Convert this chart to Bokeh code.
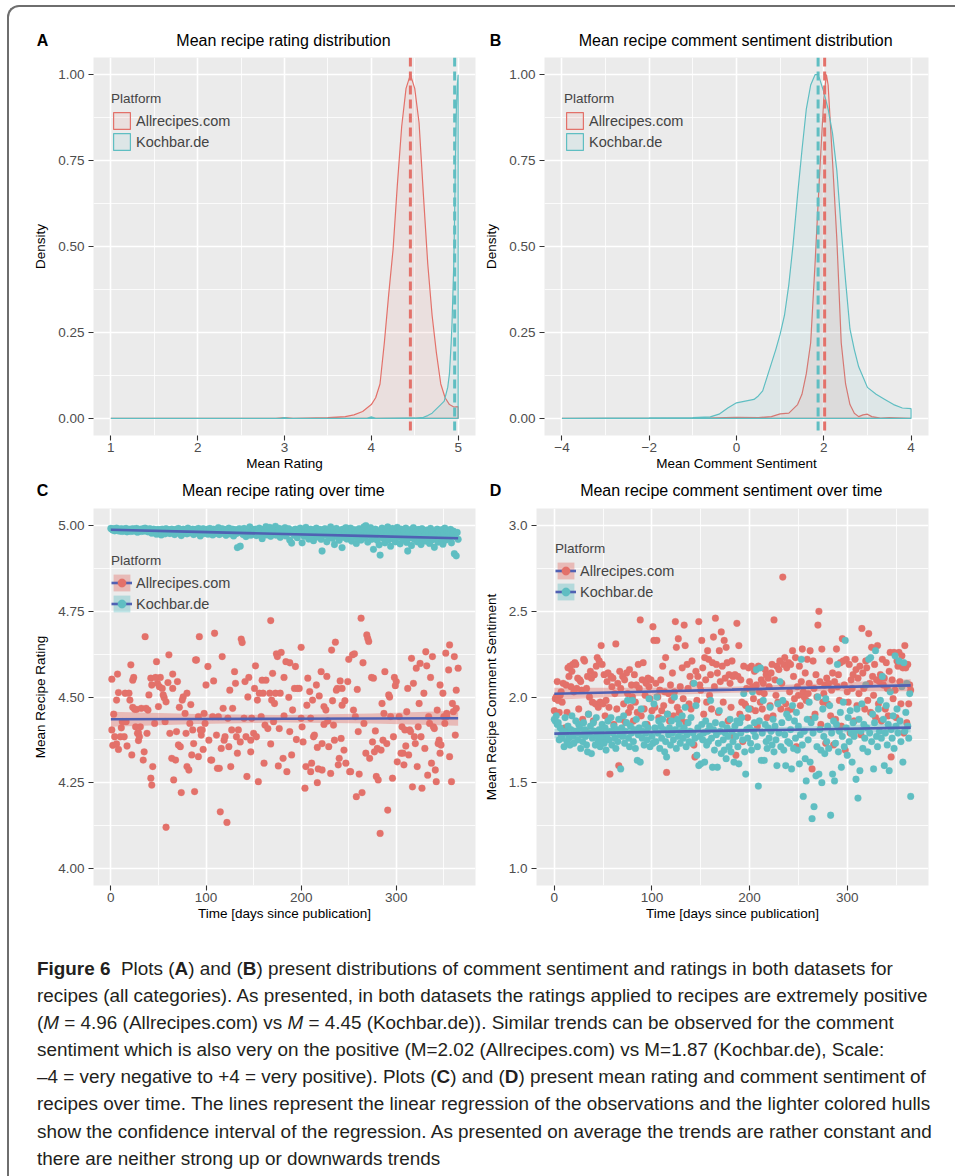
from bokeh.plotting import figure
from bokeh.models import (Range1d, FixedTicker, Span, Legend, LegendItem,
                          Div, PrintfTickFormatter)
from bokeh.layouts import row, column
from bokeh.embed import file_html
from bokeh.resources import INLINE

# ---------------- data ----------------
platforms = ["Allrecipes.com", "Kochbar.de"]
panel_letters = ["A", "B", "C", "D"]
panel_titles = ["Mean recipe rating distribution",
                "Mean recipe comment sentiment distribution",
                "Mean recipe rating over time",
                "Mean recipe comment sentiment over time"]

# Panel A: density of mean rating
a_red_x = [1.0, 2.9, 3.0, 3.1, 3.5, 3.7, 3.8, 3.9, 4.0, 4.05, 4.1, 4.15, 4.2, 4.25, 4.3,
           4.35, 4.4, 4.45, 4.5, 4.55, 4.6, 4.65, 4.7, 4.75, 4.8, 4.85, 4.9, 4.95, 5.0]
a_red_y = [0.0, 0.0, 0.002, 0.0, 0.002, 0.005, 0.01, 0.02, 0.04, 0.06, 0.1, 0.22, 0.36, 0.49, 0.68,
           0.85, 0.96, 1.0, 0.96, 0.86, 0.65, 0.45, 0.3, 0.19, 0.1, 0.06, 0.04, 0.033, 0.034]
a_teal_x = [1.0, 2.95, 3.0, 3.05, 3.95, 4.0, 4.05, 4.5, 4.6, 4.65, 4.7, 4.72, 4.8, 4.84, 4.88,
            4.9, 4.92, 4.93, 4.95, 4.96, 4.97, 4.98, 4.99, 5.0]
a_teal_y = [0.0, 0.0, 0.002, 0.0, 0.0, 0.004, 0.0, 0.001, 0.003, 0.008, 0.015, 0.02, 0.04, 0.05, 0.09,
            0.13, 0.22, 0.28, 0.45, 0.6, 0.78, 0.9, 0.97, 1.0]
a_means = [4.45, 4.96]

# Panel B: density of mean comment sentiment
b_red_x = [-4.0, -1.0, 0.0, 0.5, 0.8, 1.0, 1.2, 1.4, 1.5, 1.6, 1.7, 1.8, 1.9, 2.0, 2.06, 2.1,
           2.2, 2.3, 2.4, 2.5, 2.6, 2.7, 2.8, 2.9, 3.0, 3.1, 3.3, 3.5, 4.0]
b_red_y = [0.0, 0.0, 0.003, 0.002, 0.005, 0.013, 0.015, 0.04, 0.07, 0.13, 0.22, 0.45, 0.7, 0.93, 1.0, 0.97,
           0.75, 0.52, 0.22, 0.1, 0.04, 0.015, 0.005, 0.01, 0.012, 0.005, 0.001, 0.002, 0.0]
b_teal_x = [-4.0, -2.0, -1.0, -0.6, -0.4, -0.2, 0.0, 0.2, 0.4, 0.5, 0.6, 0.7, 0.8, 0.9, 1.0, 1.1,
            1.2, 1.3, 1.4, 1.5, 1.6, 1.7, 1.8, 1.85, 1.9, 2.0, 2.1, 2.2, 2.3, 2.4, 2.5, 2.6,
            2.7, 2.8, 2.9, 3.0, 3.2, 3.4, 3.6, 3.8, 4.0]
b_teal_y = [0.0, 0.001, 0.002, 0.004, 0.012, 0.03, 0.045, 0.05, 0.055, 0.065, 0.08, 0.12, 0.16, 0.2, 0.245, 0.3,
            0.39, 0.51, 0.65, 0.78, 0.9, 0.97, 1.0, 1.0, 0.99, 0.95, 0.9, 0.83, 0.72, 0.55, 0.4, 0.26,
            0.2, 0.15, 0.12, 0.09, 0.07, 0.055, 0.04, 0.03, 0.028]
b_means = [2.02, 1.87]

# Panel C: mean recipe rating over time (day, rating)
c_red_points = [
    (1,4.404),(1,4.552),(3,4.45),(2,4.359),(4,4.384),(6,4.491),(7,4.567),(6,4.363),(8,4.513),(8,4.347),
    (10,4.384),(11,4.41),(12,4.428),(14,4.384),(15,4.511),(16,4.428),(17,4.357),(19,4.511),(20,4.491),(21,4.594),
    (22,4.331),(23,4.47),(23,4.549),(24,4.557),(25,4.464),(26,4.413),(27,4.464),(28,4.394),(29,4.373),(29,4.396),
    (30,4.384),(31,4.413),(32,4.467),(34,4.316),(35,4.34),(36,4.676),(37,4.467),(38,4.394),(39,4.462),(40,4.506),
    (42,4.555),(42,4.263),(43,4.243),(43,4.535),(44,4.297),(46,4.423),(47,4.557),(48,4.603),(49,4.54),(50,4.472),
    (51,4.53),(52,4.557),(54,4.525),(55,4.506),(56,4.498),(57,4.428),(58,4.12),(58,4.486),(60,4.542),(61,4.623),
    (62,4.394),(64,4.321),(65,4.567),(65,4.525),(66,4.258),(68,4.316),(69,4.399),(70,4.545),(71,4.36),(72,4.47),
    (73,4.355),(74,4.221),(75,4.491),(76,4.5),(78,4.452),(79,4.394),(80,4.511),(80,4.297),(82,4.287),(83,4.423),
    (84,4.478),(85,4.331),(86,4.404),(87,4.364),(88,4.224),(89,4.608),(90,4.608),(92,4.443),(92,4.326),(93,4.676),
    (94,4.404),(95,4.389),(96,4.404),(97,4.347),(98,4.452),(99,4.423),(100,4.535),(102,4.589),(103,4.374),(105,4.316),
    (106,4.316),(107,4.443),(108,4.547),(109,4.686),(111,4.389),(112,4.292),(113,4.443),(114,4.292),(115,4.165),(116,4.35),
    (117,4.618),(118,4.467),(119,4.374),(120,4.384),(122,4.134),(123,4.438),(124,4.355),(125,4.52),(126,4.297),(127,4.404),
    (128,4.467),(130,4.574),(131,4.54),(132,4.384),(133,4.336),(134,4.404),(136,4.369),(137,4.669),(138,4.659),(140,4.438),
    (141,4.545),(142,4.384),(143,4.268),(144,4.5),(145,4.557),(147,4.374),(147,4.34),(148,4.438),(150,4.394),(151,4.525),
    (152,4.591),(153,4.384),(154,4.491),(155,4.253),(156,4.511),(158,4.443),(159,4.549),(160,4.511),(161,4.307),(162,4.418),
    (163,4.549),(165,4.408),(167,4.511),(168,4.363),(168,4.723),(169,4.491),(170,4.569),(171,4.428),(172,4.481),(173,4.511),
    (174,4.626),(175,4.618),(176,4.299),(177,4.408),(178,4.511),(179,4.63),(181,4.321),(182,4.557),(182,4.445),(184,4.603),
    (185,4.282),(187,4.499),(188,4.399),(188,4.6),(190,4.331),(191,4.462),(193,4.525),(194,4.589),(195,4.376),(196,4.525),
    (198,4.525),(200,4.438),(200,4.645),(201,4.413),(202,4.369),(204,4.234),(205,4.297),(206,4.476),(207,4.555),(209,4.516),
    (210,4.282),(210,4.438),(211,4.307),(212,4.491),(213,4.384),(214,4.389),(216,4.535),(217,4.353),(217,4.25),(218,4.29),
    (219,4.503),(221,4.574),(222,4.287),(222,4.364),(224,4.472),(224,4.42),(226,4.462),(227,4.56),(228,4.43),(229,4.355),
    (231,4.277),(232,4.637),(233,4.489),(234,4.418),(235,4.374),(236,4.66),(237,4.52),(238,4.525),(239,4.302),(240,4.321),
    (241,4.547),(242,4.379),(243,4.476),(243,4.525),(245,4.345),(246,4.489),(247,4.307),(249,4.545),(250,4.61),(251,4.282),
    (252,4.282),(254,4.623),(255,4.462),(256,4.626),(257,4.443),(258,4.209),(259,4.522),(260,4.399),(261,4.275),(263,4.73),
    (264,4.221),(265,4.6),(266,4.423),(268,4.336),(269,4.681),(270,4.671),(271,4.662),(272,4.321),(274,4.557),(275,4.369),
    (276,4.555),(277,4.34),(278,4.401),(279,4.268),(280,4.35),(281,4.258),(283,4.102),(284,4.345),(285,4.481),(286,4.374),
    (287,4.452),(288,4.574),(290,4.364),(291,4.17),(292,4.506),(293,4.5),(294,4.443),(296,4.263),(297,4.384),(298,4.557),
    (299,4.533),(300,4.545),(301,4.311),(303,4.443),(305,4.336),(306,4.413),(307,4.336),(308,4.302),(309,4.404),(310,4.357),
    (311,4.457),(312,4.525),(313,4.331),(314,4.404),(315,4.399),(316,4.613),(317,4.238),(318,4.54),(319,4.384),(320,4.364),
    (321,4.584),(322,4.297),(323,4.413),(324,4.481),(325,4.598),(326,4.384),(327,4.234),(329,4.511),(330,4.35),(331,4.632),
    (332,4.591),(333,4.272),(334,4.443),(335,4.423),(336,4.557),(337,4.307),(338,4.618),(339,4.413),(340,4.408),(341,4.287),
    (342,4.253),(343,4.462),(344,4.364),(345,4.374),(346,4.535),(346,4.336),(347,4.36),(349,4.511),(350,4.443),(351,4.423),
    (352,4.628),(353,4.452),(353,4.443),(355,4.579),(356,4.326),(356,4.652),(358,4.253),(359,4.481),(360,4.457),(361,4.618),
    (362,4.389),(363,4.52),(363,4.467),(365,4.584)]

# Kochbar.de daily mean rating, day 0..365
c_teal_vals = [
    4.992, 4.990, 4.987, 4.991, 4.985, 4.989, 4.993, 4.986, 4.990, 4.984,
    4.988, 4.991, 4.983, 4.987, 4.990, 4.985, 4.992, 4.982, 4.988, 4.986,
    4.990, 4.983, 4.987, 4.991, 4.984, 4.989, 4.986, 4.992, 4.981, 4.988,
    4.985, 4.990, 4.983, 4.987, 4.991, 4.984, 4.993, 4.986, 4.989, 4.982,
    4.988, 4.991, 4.985, 4.978, 4.987, 4.990, 4.983, 4.986, 4.975, 4.989,
    4.984, 4.979, 4.988, 4.973, 4.990, 4.982, 4.986, 4.976, 4.991, 4.980,
    4.985, 4.988, 4.977, 4.983, 4.990, 4.981, 4.986, 4.974, 4.989, 4.984,
    4.979, 4.992, 4.982, 4.987, 4.971, 4.985, 4.990, 4.978, 4.984, 4.988,
    4.976, 4.993, 4.983, 4.979, 4.987, 4.981, 4.990, 4.974, 4.985, 4.989,
    4.978, 4.984, 4.992, 4.980, 4.970, 4.987, 4.983, 4.991, 4.977, 4.986,
    4.981, 4.989, 4.975, 4.985, 4.992, 4.979, 4.986, 4.973, 4.990, 4.983,
    4.977, 4.988, 4.982, 4.994, 4.974, 4.986, 4.980, 4.991, 4.978, 4.984,
    4.989, 4.972, 4.985, 4.981, 4.993, 4.976, 4.987, 4.982, 4.990, 4.970,
    4.984, 4.988, 4.977, 4.936, 4.983, 4.991, 4.940, 4.979, 4.986, 4.974,
    4.992, 4.981, 4.968, 4.987, 4.978, 4.985, 4.996, 4.972, 4.983, 4.989,
    4.976, 4.984, 4.990, 4.971, 4.986, 4.980, 4.993, 4.975, 4.985, 4.962,
    4.989, 4.979, 4.984, 4.997, 4.973, 4.987, 4.981, 4.995, 4.969, 4.985,
    4.990, 4.977, 4.983, 4.998, 4.972, 4.986, 4.980, 4.992, 4.966, 4.984,
    4.989, 4.975, 4.982, 4.994, 4.970, 4.986, 4.979, 4.991, 4.958, 4.983,
    4.949, 4.978, 4.987, 4.972, 4.990, 4.981, 4.965, 4.985, 4.976, 4.993,
    4.980, 4.950, 4.987, 4.969, 4.983, 4.995, 4.974, 4.986, 4.961, 4.981,
    4.990, 4.971, 4.984, 4.956, 4.988, 4.977, 4.993, 4.967, 4.982, 4.975,
    4.989, 4.960, 4.926, 4.984, 4.972, 4.991, 4.979, 4.953, 4.986, 4.969,
    4.982, 4.996, 4.974, 4.963, 4.988, 4.945, 4.979, 4.992, 4.970, 4.984,
    4.957, 4.987, 4.975, 4.936, 4.990, 4.966, 4.981, 4.994, 4.961, 4.978,
    4.986, 4.970, 4.993, 4.955, 4.981, 4.968, 4.988, 4.975, 4.948, 4.984,
    4.962, 4.991, 4.977, 4.958, 4.986, 4.971, 4.996, 4.965, 5.000, 4.979,
    4.952, 4.987, 4.973, 4.994, 4.960, 4.982, 4.931, 4.968, 4.990, 4.975,
    4.957, 4.985, 4.944, 4.914, 4.978, 4.993, 4.964, 4.981, 4.950, 4.988,
    4.971, 4.996, 4.959, 4.983, 4.940, 4.974, 4.992, 4.962, 4.985, 4.953,
    4.979, 4.995, 4.966, 4.983, 4.947, 4.990, 4.972, 4.958, 4.986, 4.969,
    4.993, 4.951, 4.926, 4.980, 4.964, 4.988, 4.942, 4.975, 4.994, 4.960,
    4.983, 4.970, 4.953, 4.989, 4.967, 4.978, 4.945, 4.991, 4.962, 4.984,
    4.971, 4.955, 4.987, 4.966, 4.981, 4.948, 4.992, 4.974, 4.959, 4.985,
    4.937, 4.979, 4.968, 4.990, 4.952, 4.983, 4.972, 4.962, 4.988, 4.946,
    4.977, 4.993, 4.958, 4.985, 4.970, 4.981, 4.964, 4.989, 4.950, 4.976,
    4.984, 4.918, 4.968, 4.912, 4.980, 4.960]

# Panel D: daily mean comment sentiment, day 0..365
d_red_vals = [
    1.92, 1.99, 2.00, 2.09, 1.98, 1.91, 2.01, 2.03, 1.97, 2.08, 1.81, 1.82, 2.07, 1.91, 2.17, 2.12, 2.18, 2.06, 2.15, 2.19,
    2.03, 2.20, 2.19, 2.05, 2.11, 1.93, 2.10, 2.09, 2.04, 1.87, 2.22, 2.21, 1.80, 2.05, 2.12, 1.90, 2.00, 2.15, 2.11, 1.97,
    1.86, 2.13, 1.96, 2.18, 2.23, 1.94, 2.21, 1.97, 2.30, 2.19, 1.96, 2.13, 1.89, 1.98, 2.09, 2.14, 1.94, 1.55, 2.12, 2.06,
    2.11, 1.84, 2.02, 2.31, 1.93, 2.08, 1.60, 2.15, 2.05, 1.87, 2.12, 1.96, 2.10, 1.85, 2.14, 2.02, 1.91, 2.16, 1.94, 2.07,
    2.00, 1.86, 2.13, 1.97, 2.07, 1.91, 2.19, 2.05, 2.45, 1.89, 2.10, 2.20, 1.93, 2.01, 2.08, 1.84, 2.11, 2.06, 1.99, 2.10,
    1.92, 2.41, 2.33, 1.94, 2.08, 2.33, 2.00, 1.88, 2.04, 2.10, 1.92, 2.18, 1.95, 2.03, 2.23, 1.56, 1.90, 2.02, 1.86, 2.07,
    1.98, 2.14, 1.89, 2.03, 2.44, 2.29, 1.94, 2.34, 1.91, 2.06, 1.87, 2.17, 1.99, 2.42, 2.30, 1.85, 2.19, 2.05, 1.96, 2.12,
    1.93, 2.21, 2.08, 1.72, 1.65, 2.15, 1.98, 2.12, 2.44, 2.07, 2.04, 2.33, 2.17, 1.90, 2.23, 2.10, 1.97, 2.27, 2.22, 2.01,
    2.13, 1.93, 2.20, 2.35, 2.06, 2.46, 2.19, 2.14, 1.91, 2.27, 2.09, 2.38, 2.18, 1.97, 2.33, 2.11, 2.29, 2.20, 1.86, 2.13,
    2.08, 1.94, 2.21, 2.12, 1.77, 2.13, 1.66, 2.43, 2.12, 2.30, 1.90, 2.10, 1.97, 1.74, 2.18, 1.96, 1.95, 2.05, 1.88, 2.17,
    2.09, 1.93, 2.18, 2.06, 1.99, 2.15, 1.92, 2.07, 1.83, 2.18, 2.03, 1.97, 2.10, 1.93, 2.08, 2.02, 2.16, 2.13, 1.88, 2.11,
    2.06, 1.95, 2.14, 2.19, 1.89, 2.45, 2.10, 2.01, 2.18, 1.97, 2.16, 2.21, 1.93, 2.08, 2.70, 2.19, 2.23, 1.96, 2.17, 1.92,
    2.20, 2.03, 2.19, 1.93, 2.27, 2.12, 1.99, 2.23, 1.71, 2.06, 2.01, 2.18, 1.95, 2.09, 2.28, 2.03, 2.00, 2.14, 1.98, 2.22,
    2.02, 2.08, 2.27, 1.87, 1.58, 2.21, 2.05, 1.90, 2.13, 2.00, 2.42, 2.50, 2.09, 1.84, 2.28, 1.97, 2.02, 2.07, 1.73, 2.11,
    1.96, 2.08, 2.21, 1.89, 2.04, 2.14, 1.72, 2.09, 1.87, 2.28, 2.06, 2.13, 1.98, 2.20, 1.83, 2.34, 2.21, 2.07, 1.69, 2.22,
    2.03, 1.97, 2.19, 1.79, 2.10, 2.05, 2.13, 1.86, 2.22, 2.16, 1.95, 2.11, 2.02, 2.18, 1.78, 2.40, 2.14, 2.05, 1.93, 2.21,
    2.17, 1.98, 2.37, 2.08, 1.91, 2.29, 2.12, 2.01, 2.19, 1.88, 2.10, 2.30, 1.96, 2.09, 2.13, 1.86, 2.22, 2.07, 2.11, 1.93,
    2.20, 2.05, 1.89, 2.15, 2.26, 1.65, 2.10, 1.99, 2.26, 2.04, 1.88, 2.21, 2.18, 2.26, 2.09, 1.96, 2.24, 2.17, 1.79, 2.30,
    2.17, 1.85, 2.19, 1.96, 2.07, 2.04]
d_teal_vals = [
    1.87, 1.86, 1.89, 1.84, 1.85, 1.75, 1.82, 1.78, 1.76, 1.80, 1.71, 1.88, 1.79, 1.74, 1.83, 1.76, 1.72, 1.81, 1.89, 1.77,
    1.73, 1.80, 1.86, 1.79, 1.75, 1.84, 1.82, 1.70, 1.78, 1.74, 1.85, 1.81, 1.77, 1.72, 1.68, 1.90, 1.79, 1.83, 1.67, 1.76,
    1.85, 1.80, 1.72, 1.88, 1.77, 1.74, 1.81, 1.71, 1.79, 1.84, 1.76, 1.73, 1.82, 1.69, 1.78, 1.86, 1.75, 1.80, 1.88, 1.72,
    1.79, 1.83, 1.76, 1.70, 1.81, 1.74, 1.87, 1.78, 1.58, 1.82, 1.77, 1.89, 1.73, 1.80, 1.85, 1.98, 1.76, 1.71, 1.83, 1.79,
    1.98, 1.74, 1.81, 1.70, 1.87, 1.63, 1.78, 1.82, 1.62, 1.93, 1.76, 1.80, 1.72, 1.84, 1.79, 1.75, 1.82, 1.99, 1.71, 1.88,
    1.77, 1.73, 1.96, 1.82, 1.74, 2.00, 1.79, 1.86, 1.70, 1.83, 1.76, 1.87, 1.81, 1.68, 1.74, 1.65, 1.90, 1.78, 1.82, 1.72,
    1.86, 1.79, 1.75, 2.00, 1.81, 1.70, 1.87, 1.77, 1.84, 1.73, 1.80, 1.89, 1.76, 1.82, 1.94, 1.71, 1.78, 1.85, 1.74, 1.80,
    1.88, 1.73, 1.79, 2.08, 1.76, 1.95, 1.66, 1.82, 1.60, 1.77, 1.61, 1.84, 1.75, 1.79, 1.62, 1.86, 1.72, 1.80, 1.74, 1.83,
    1.98, 1.76, 1.59, 1.81, 1.69, 1.85, 1.78, 1.59, 1.73, 1.92, 1.80, 1.67, 1.84, 1.75, 1.69, 1.79, 1.64, 1.82, 1.77, 1.71,
    1.87, 1.68, 1.80, 1.74, 1.62, 1.83, 1.77, 1.86, 1.71, 1.61, 1.85, 1.79, 1.88, 1.75, 2.02, 1.68, 1.55, 1.81, 1.76, 1.93,
    1.82, 1.73, 1.69, 2.03, 1.80, 1.85, 1.77, 2.16, 1.71, 1.48, 1.86, 2.17, 1.63, 1.79, 1.98, 1.63, 1.84, 1.74, 1.70, 1.82,
    1.76, 1.94, 1.80, 1.72, 1.87, 1.68, 1.83, 1.75, 1.60, 1.96, 1.79, 2.09, 1.71, 1.85, 1.98, 1.69, 1.78, 1.60, 1.90, 1.74,
    1.88, 1.73, 1.81, 1.58, 1.95, 1.70, 1.86, 1.76, 1.91, 1.69, 1.83, 1.61, 1.78, 2.22, 1.72, 1.42, 1.80, 1.64, 1.51, 1.87,
    1.75, 1.97, 1.62, 1.85, 1.29, 1.79, 1.36, 1.88, 1.54, 1.71, 2.00, 1.55, 1.81, 1.69, 1.50, 1.93, 1.77, 1.67, 1.99, 1.74,
    1.83, 1.70, 1.95, 1.31, 1.79, 1.55, 1.86, 1.51, 1.73, 1.84, 2.19, 1.68, 1.80, 1.91, 1.59, 1.77, 1.97, 1.71, 2.33, 1.82,
    1.66, 1.88, 1.74, 1.92, 1.79, 1.62, 1.85, 1.77, 1.80, 1.52, 1.93, 1.41, 1.87, 1.57, 1.80, 1.96, 1.70, 1.84, 1.76, 2.07,
    1.82, 1.68, 2.22, 1.79, 2.23, 1.74, 1.90, 1.58, 1.85, 2.27, 1.77, 1.71, 1.93, 1.80, 1.98, 1.76, 2.12, 1.87, 1.60, 1.79,
    1.95, 1.72, 1.84, 1.57, 2.03, 1.81, 1.76, 1.89, 1.70, 2.24, 1.83, 1.93, 1.79, 2.21, 1.86, 1.74, 2.06, 1.62, 2.20, 1.80,
    1.91, 2.08, 1.83, 1.76, 2.02, 1.42]

# Linear regression fits with confidence interval
reg_days = [0, 91, 182, 274, 365]
c_red_fit = [4.435, 4.4358, 4.4365, 4.4373, 4.438]
c_red_lo = [4.413, 4.4212, 4.4255, 4.4227, 4.416]
c_red_hi = [4.457, 4.4504, 4.4475, 4.4519, 4.460]
c_teal_fit = [4.988, 4.9818, 4.9755, 4.9693, 4.963]
c_teal_lo = [4.984, 4.9792, 4.9735, 4.9667, 4.959]
c_teal_hi = [4.992, 4.9844, 4.9775, 4.9719, 4.967]
d_red_fit = [2.019, 2.031, 2.043, 2.056, 2.068]
d_red_lo = [1.984, 2.008, 2.0255, 2.033, 2.033]
d_red_hi = [2.054, 2.054, 2.0605, 2.079, 2.103]
d_teal_fit = [1.786, 1.795, 1.8035, 1.812, 1.821]
d_teal_lo = [1.758, 1.7765, 1.7895, 1.7935, 1.793]
d_teal_hi = [1.814, 1.8135, 1.8175, 1.8305, 1.849]

caption_lines = [
    "<b>Figure 6</b>&nbsp; Plots (<b>A</b>) and (<b>B</b>) present distributions of comment sentiment and ratings in both datasets for",
    "recipes (all categories). As presented, in both datasets the ratings applied to recipes are extremely positive",
    "(<i>M</i> = 4.96 (Allrecipes.com) vs <i>M</i> = 4.45 (Kochbar.de)). Similar trends can be observed for the comment",
    "sentiment which is also very on the positive (M=2.02 (Allrecipes.com) vs M=1.87 (Kochbar.de), Scale:",
    "&ndash;4 = very negative to +4 = very positive). Plots (<b>C</b>) and (<b>D</b>) present mean rating and comment sentiment of",
    "recipes over time. The lines represent the linear regression of the observations and the lighter colored hulls",
    "show the confidence interval of the regression. As presented on average the trends are rather constant and",
    "there are neither strong up or downwards trends",
]

# ---------------- style ----------------
RED = "#E3716A"
TEAL = "#5FBEC2"
BLUE = "#5061B3"
PANEL = "#EBEBEB"
FONT = "Liberation Sans"


def make_fig(width, height, xr, yr, borders, xt, xm, yt, ym, xlabel, ylabel, yfmt=None):
    lb, rb, tb, bb = borders
    p = figure(width=width, height=height, x_range=Range1d(*xr), y_range=Range1d(*yr),
               output_backend="svg", toolbar_location=None,
               min_border_left=lb, min_border_right=rb, min_border_top=tb, min_border_bottom=bb,
               background_fill_color=PANEL, border_fill_color="white", outline_line_color=None)
    xtick = FixedTicker(ticks=xt, minor_ticks=xm)
    ytick = FixedTicker(ticks=yt, minor_ticks=ym)
    p.xaxis.ticker = xtick
    p.yaxis.ticker = ytick
    p.xgrid.ticker = xtick
    p.ygrid.ticker = ytick
    if yfmt:
        p.yaxis.formatter = PrintfTickFormatter(format=yfmt)
    for ax in (p.xaxis[0], p.yaxis[0]):
        ax.axis_line_color = None
        ax.major_tick_line_color = "#333333"
        ax.major_tick_line_width = 1.1
        ax.major_tick_out = 5
        ax.major_tick_in = 0
        ax.minor_tick_line_color = None
        ax.major_label_text_font = FONT
        ax.major_label_text_font_size = "13.5px"
        ax.major_label_text_color = "#4D4D4D"
        ax.axis_label_text_font = FONT
        ax.axis_label_text_font_size = "13.5px"
        ax.axis_label_text_font_style = "normal"
        ax.axis_label_text_color = "black"
    p.xaxis.major_label_standoff = 2
    p.yaxis.major_label_standoff = 4
    p.xaxis.axis_label_standoff = 1
    p.yaxis.axis_label_standoff = 7
    p.xaxis.axis_label = xlabel
    p.yaxis.axis_label = ylabel
    for g in (p.xgrid[0], p.ygrid[0]):
        g.grid_line_color = "white"
        g.grid_line_width = 1.6
        g.minor_grid_line_color = "white"
        g.minor_grid_line_width = 0.8
    return p


def header(height, top, entries):
    spans = []
    for letter, title, lx, tx in entries:
        spans.append('<span style="position:absolute;left:%spx;top:%spx;font-weight:bold;">%s</span>'
                     % (lx, top, letter))
        spans.append('<span style="position:absolute;left:%spx;top:%spx;transform:translateX(-50%%);'
                     'white-space:nowrap;">%s</span>' % (tx, top, title))
    html = ('<div style="position:relative;width:946px;height:%dpx;font-family:\'Liberation Sans\',Arial,sans-serif;'
            'font-size:16px;line-height:18px;color:black;">' % height) + "".join(spans) + "</div>"
    return Div(text=html, width=946, height=height, margin=0)


def add_legend(p, items, loc):
    leg = Legend(items=items, location=loc, title="Platform",
                 background_fill_alpha=0, border_line_color=None, padding=0, margin=0,
                 spacing=0, glyph_width=21, glyph_height=21, label_height=21,
                 label_standoff=4, label_text_font=FONT, label_text_font_size="14.5px",
                 title_text_font=FONT, title_text_font_size="13.5px",
                 title_text_font_style="normal", title_standoff=4)
    p.add_layout(leg)


def density_panel(p, red_x, red_y, teal_x, teal_y, means):
    rp = p.patch([red_x[0]] + red_x + [red_x[-1]], [0] + red_y + [0],
                 fill_color=RED, fill_alpha=0.1, line_color=RED, line_width=1.2)
    tp = p.patch([teal_x[0]] + teal_x + [teal_x[-1]], [0] + teal_y + [0],
                 fill_color=TEAL, fill_alpha=0.1, line_color=TEAL, line_width=1.2)
    for m, c in zip(means, (RED, TEAL)):
        p.add_layout(Span(location=m, dimension="height", line_color=c,
                          line_width=3, line_dash="9 5"))
    return [LegendItem(label=platforms[0], renderers=[rp]),
            LegendItem(label=platforms[1], renderers=[tp])]


# ---------------- Panel A ----------------
pA = make_fig(469, 418, (0.8, 5.2), (-0.05, 1.05), (84, 3, 0, 40),
              [1, 2, 3, 4, 5], [1.5, 2.5, 3.5, 4.5],
              [0, 0.25, 0.5, 0.75, 1.0], [0.125, 0.375, 0.625, 0.875],
              "Mean Rating", "Density", "%.2f")
itemsA = density_panel(pA, a_red_x, a_red_y, a_teal_x, a_teal_y, a_means)
add_legend(pA, itemsA, (18, 283))

# ---------------- Panel B ----------------
pB = make_fig(477, 418, (-4.4, 4.4), (-0.05, 1.05), (66, 27, 0, 37),
              [-4, -2, 0, 2, 4], [-3, -1, 1, 3],
              [0, 0.25, 0.5, 0.75, 1.0], [0.125, 0.375, 0.625, 0.875],
              "Mean Comment Sentiment", "Density", "%.2f")
pB.xaxis.major_label_overrides = {-4: "\u22124", -2: "\u22122"}
itemsB = density_panel(pB, b_red_x, b_red_y, b_teal_x, b_teal_y, b_means)
add_legend(pB, itemsB, (20, 283))


# ---------------- Panels C, D ----------------
def time_panel(p, red_x, red_y, teal_x, teal_y, fits):
    (rf, rlo, rhi, tf, tlo, thi) = fits
    rpts = p.scatter(red_x, red_y, size=6.8, fill_color=RED, line_color=RED, line_width=0.3)
    tpts = p.scatter(teal_x, teal_y, size=6.8, fill_color=TEAL, line_color=TEAL, line_width=0.3)
    rb = p.varea(x=reg_days, y1=rlo, y2=rhi, fill_color=RED, fill_alpha=0.4)
    tb = p.varea(x=reg_days, y1=tlo, y2=thi, fill_color=TEAL, fill_alpha=0.4)
    rl = p.line(reg_days, rf, line_color=BLUE, line_width=2.6)
    tl = p.line(reg_days, tf, line_color=BLUE, line_width=2.6)
    return [LegendItem(label=platforms[0], renderers=[rb, rl, rpts]),
            LegendItem(label=platforms[1], renderers=[tb, tl, tpts])]


c_red_x = [d for d, v in c_red_points]
c_red_y = [v for d, v in c_red_points]

pC = make_fig(469, 427, (-18.25, 383.25), (3.95, 5.05), (84, 3, 0, 50),
              [0, 100, 200, 300], [50, 150, 250, 350],
              [4.0, 4.25, 4.5, 4.75, 5.0], [4.125, 4.375, 4.625, 4.875],
              "Time [days since publication]", "Mean Recipe Rating", "%.2f")
itemsC = time_panel(pC, c_red_x, c_red_y, list(range(len(c_teal_vals))), c_teal_vals,
                    (c_red_fit, c_red_lo, c_red_hi, c_teal_fit, c_teal_lo, c_teal_hi))
add_legend(pC, itemsC, (18, 271))

pD = make_fig(477, 427, (-18.25, 383.25), (0.9, 3.1), (58, 27, 0, 50),
              [0, 100, 200, 300], [50, 150, 250, 350],
              [1.0, 1.5, 2.0, 2.5, 3.0], [1.25, 1.75, 2.25, 2.75],
              "Time [days since publication]", "Mean Recipe Comment Sentiment", "%.1f")
itemsD = time_panel(pD, list(range(len(d_red_vals))), d_red_vals,
                    list(range(len(d_teal_vals))), d_teal_vals,
                    (d_red_fit, d_red_lo, d_red_hi, d_teal_fit, d_teal_lo, d_teal_hi))
add_legend(pD, itemsD, (19, 283))

# ---------------- panel headers ----------------
head1 = header(50, 24.7, [(panel_letters[0], panel_titles[0], 27.7, 274.5),
                          (panel_letters[1], panel_titles[1], 480.7, 726.7)])
head2 = header(33, 6.7, [(panel_letters[2], panel_titles[2], 27.7, 274.3),
                         (panel_letters[3], panel_titles[3], 480.7, 722.3)])

# ---------------- caption ----------------
cap_html = ('<div style="padding:20px 0 0 28px; font-family:\'Liberation Sans\', Arial, sans-serif; '
            'font-size:18.9px; line-height:27.1px; color:#231F20; white-space:nowrap;">'
            + "<br>".join(caption_lines) + "</div>")
cap = Div(text=cap_html, width=946, height=241, margin=0)

layout = column(head1, row(pA, pB), head2, row(pC, pD), cap,
                styles={"border-left": "2px solid #6E6E6E", "border-top": "2px solid #6E6E6E",
                        "border-top-left-radius": "12px", "margin-left": "7px", "margin-top": "5px"})

open("out.html", "w").write(file_html(layout, INLINE))
